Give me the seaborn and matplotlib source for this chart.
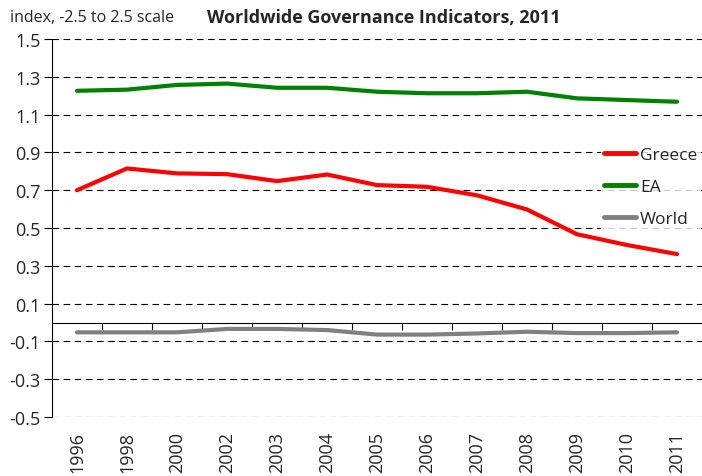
import numpy as np
import pandas as pd
import matplotlib
matplotlib.use("Agg")
import matplotlib.pyplot as plt
import seaborn as sns

years = ["1996", "1998", "2000", "2002", "2003", "2004", "2005",
         "2006", "2007", "2008", "2009", "2010", "2011"]
greece = [0.70, 0.815, 0.789, 0.785, 0.748, 0.783, 0.727,
          0.718, 0.673, 0.598, 0.467, 0.41, 0.362]
ea = [1.226, 1.232, 1.257, 1.264, 1.242, 1.242, 1.221,
      1.213, 1.213, 1.221, 1.186, 1.177, 1.168]
world = [-0.052, -0.052, -0.052, -0.034, -0.034, -0.040, -0.064,
         -0.064, -0.058, -0.049, -0.056, -0.056, -0.052]
yticks = [-0.5, -0.3, -0.1, 0.1, 0.3, 0.5, 0.7, 0.9, 1.1, 1.3, 1.5]

series = {"Greece": greece, "EA": ea, "World": world}
colors = {"Greece": "#ff0000", "EA": "#008000", "World": "#808080"}

df = pd.DataFrame({
    "year": years * len(series),
    "value": greece + ea + world,
    "series": [name for name in series for _ in years],
})

sns.set_style("white")
plt.rcParams["font.family"] = ["Open Sans", "DejaVu Sans"]

fig = plt.figure(figsize=(7.02, 4.77), dpi=100)
ax = fig.add_axes([52 / 702, 59 / 477, 650 / 702, 378 / 477])

sns.lineplot(data=df, x="year", y="value", hue="series", palette=colors,
             linewidth=3, ax=ax, sort=False)

ax.set_ylim(-0.5, 1.5)
ax.set_xlim(-0.5, len(years) - 0.5)
ax.set_yticks(yticks)
ax.set_yticklabels([f"{t:.1f}" for t in yticks], fontsize=13)
ax.yaxis.grid(True, color="black", linestyle=(0, (6, 4)), linewidth=0.8)
ax.set_axisbelow(True)
ax.tick_params(axis="y", direction="out", length=6, width=0.8, color="black",
               pad=2, left=True)

# x axis sits at zero, labels pushed down to the bottom
ax.spines["bottom"].set_position(("data", 0))
ax.spines["top"].set_visible(False)
ax.spines["right"].set_visible(False)
for s in ["left", "bottom"]:
    ax.spines[s].set_color("black")
    ax.spines[s].set_linewidth(0.8)
ax.set_xticks(range(len(years)))
ax.set_xticklabels(years, rotation=90, fontsize=13)
ax.set_xticks(np.arange(0.5, len(years) - 0.5, 1), minor=True)
ax.tick_params(axis="x", which="major", length=0, pad=78)
ax.tick_params(axis="x", which="minor", direction="out", length=5, width=0.8,
               color="black", bottom=True)
ax.set_xlabel("")
ax.set_ylabel("")

leg = ax.legend(loc="upper left", bbox_to_anchor=(601 / 702, 333 / 477),
                bbox_transform=fig.transFigure, frameon=True, fontsize=12.5,
                handlelength=1.8, handletextpad=0.25, labelspacing=0.92,
                borderaxespad=0, borderpad=0.2, fancybox=False)
leg.get_frame().set_facecolor("white")
leg.get_frame().set_edgecolor("none")
for line in leg.get_lines():
    line.set_linewidth(3.5)

fig.text(10 / 702, 1 - 18 / 477, "index, -2.5 to 2.5 scale", fontsize=11.5,
         va="center", ha="left")
fig.text(384 / 702, 1 - 18 / 477, "Worldwide Governance Indicators, 2011",
         fontsize=13, fontweight="bold", va="center", ha="center")

fig.savefig("out.png", dpi=100)
